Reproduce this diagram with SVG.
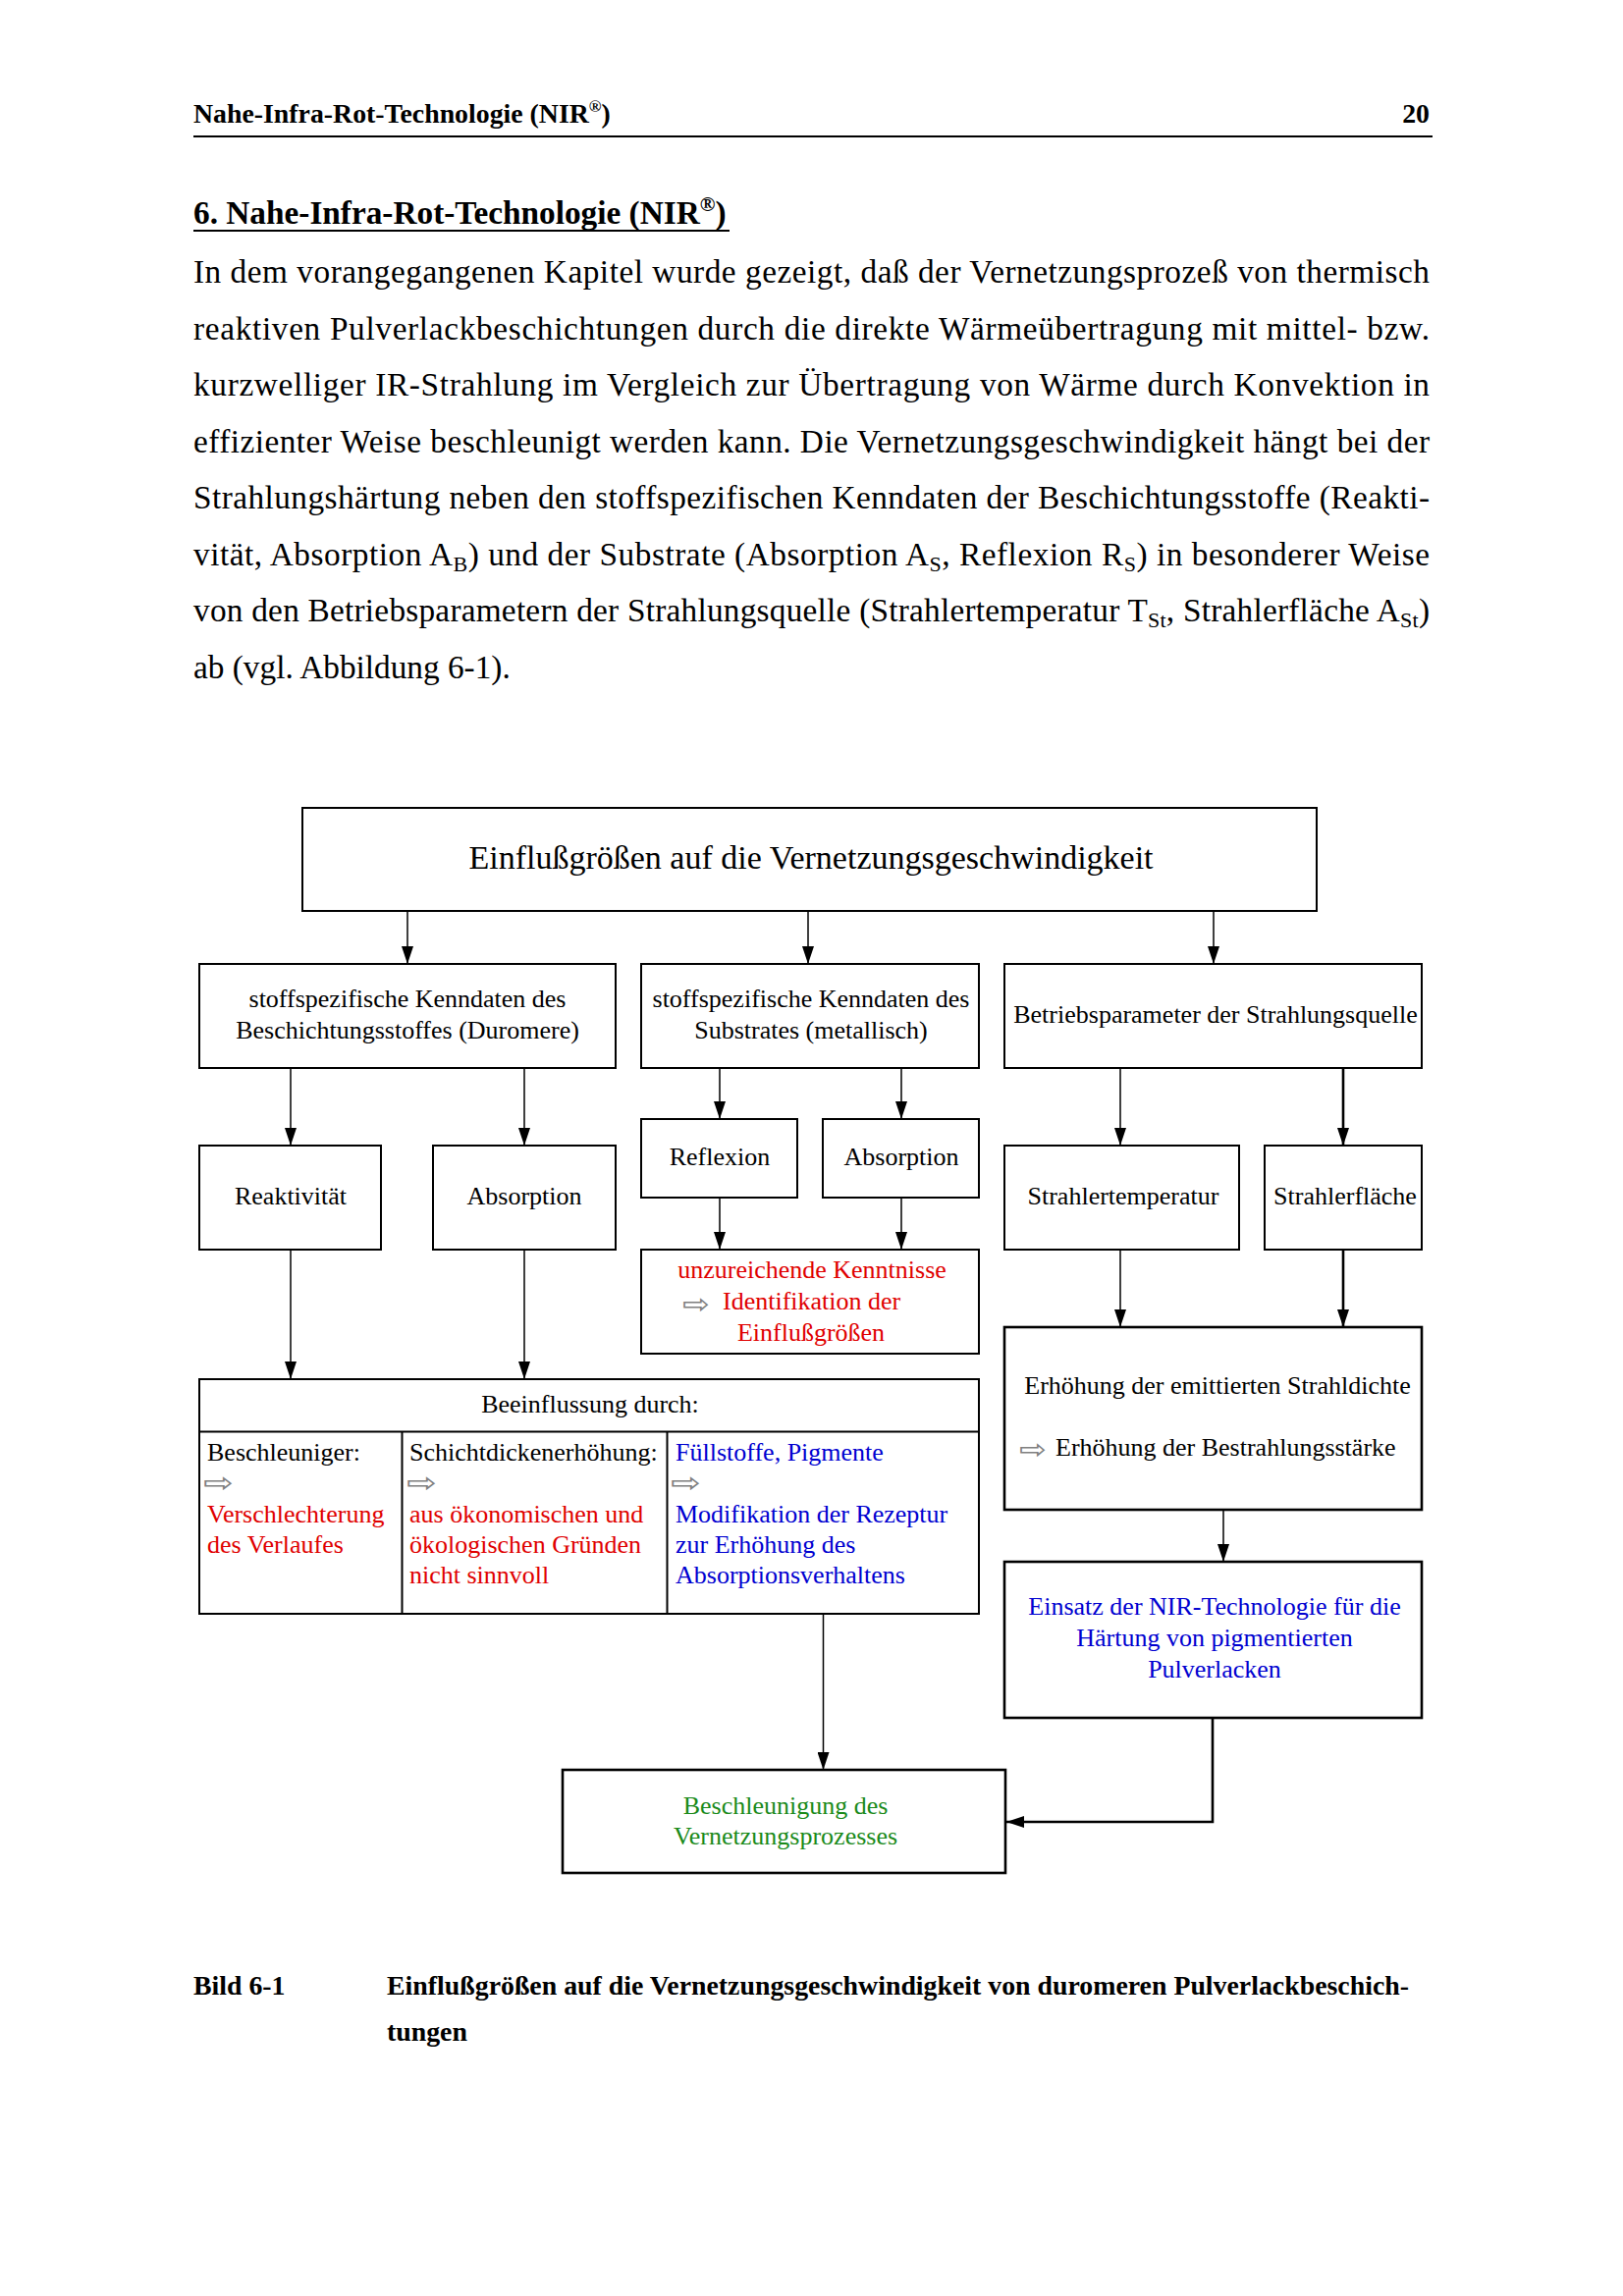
<svg xmlns="http://www.w3.org/2000/svg" width="1653" height="2339" viewBox="0 0 1653 2339">
<defs>
<style>
.serif{font-family:"Liberation Serif","Times New Roman",serif;fill:#000}
.hdr{font-size:27.8px;font-weight:bold}
.ttl{font-size:33.3px;font-weight:bold}
.body{font-size:33.3px}
.cap{font-size:27.8px;font-weight:bold}
.dg{font-size:26px}
.big{font-size:34px}
.mid{text-anchor:middle}
.red{fill:#e00000}
.blue{fill:#0000d0}
.green{fill:#1a8a1a}
.box{fill:#fff;stroke:#000;stroke-width:2}
.boxb{fill:#fff;stroke:#000;stroke-width:2.6}
.conn{stroke:#000;stroke-width:1.5;fill:none;marker-end:url(#ah)}
.connb{stroke:#000;stroke-width:2.6;fill:none;marker-end:url(#ah)}
.arr{font-family:"DejaVu Sans",sans-serif;font-size:28px;fill:#808080}
</style>
<marker id="ah" viewBox="0 0 18 12" refX="18" refY="6" markerWidth="18" markerHeight="12" markerUnits="userSpaceOnUse" orient="auto">
<path d="M0,0 L18,6 L0,12 Z" fill="#000"/>
</marker>
</defs>
<rect width="1653" height="2339" fill="#fff"/>

<g id="page-header">
<text class="serif hdr" x="197" y="125">Nahe-Infra-Rot-Technologie (NIR<tspan font-size="17px" dy="-11">®</tspan><tspan dy="11">)</tspan></text>
<text class="serif hdr" x="1456" y="125" text-anchor="end">20</text>
<line x1="197" y1="139" x2="1459" y2="139" stroke="#000" stroke-width="2"/>
</g>

<g id="section-title">
<text class="serif ttl" x="197" y="228">6. Nahe-Infra-Rot-Technologie (NIR<tspan font-size="21px" dy="-13">®</tspan><tspan dy="13">)</tspan></text>
<line x1="197" y1="235" x2="743" y2="235" stroke="#000" stroke-width="2.2"/>
</g>

<g id="body-text" class="serif body">
<text x="197" y="288" textLength="1259" lengthAdjust="spacing">In dem vorangegangenen Kapitel wurde gezeigt, daß der Vernetzungsprozeß von thermisch</text>
<text x="197" y="346" textLength="1259" lengthAdjust="spacing">reaktiven Pulverlackbeschichtungen durch die direkte Wärmeübertragung mit mittel- bzw.</text>
<text x="197" y="403" textLength="1259" lengthAdjust="spacing">kurzwelliger IR-Strahlung im Vergleich zur Übertragung von Wärme durch Konvektion in</text>
<text x="197" y="461" textLength="1259" lengthAdjust="spacing">effizienter Weise beschleunigt werden kann. Die Vernetzungsgeschwindigkeit hängt bei der</text>
<text x="197" y="518" textLength="1259" lengthAdjust="spacing">Strahlungshärtung neben den stoffspezifischen Kenndaten der Beschichtungsstoffe (Reakti-</text>
<text x="197" y="576" textLength="1259" lengthAdjust="spacing">vität, Absorption A<tspan font-size="22px" dy="6">B</tspan><tspan dy="-6">) und der Substrate (Absorption A</tspan><tspan font-size="22px" dy="6">S</tspan><tspan dy="-6">, Reflexion R</tspan><tspan font-size="22px" dy="6">S</tspan><tspan dy="-6">) in besonderer Weise</tspan></text>
<text x="197" y="633" textLength="1259" lengthAdjust="spacing">von den Betriebsparametern der Strahlungsquelle (Strahlertemperatur T<tspan font-size="22px" dy="6">St</tspan><tspan dy="-6">, Strahlerfläche A</tspan><tspan font-size="22px" dy="6">St</tspan><tspan dy="-6">)</tspan></text>
<text x="197" y="691">ab (vgl. Abbildung 6-1).</text>
</g>

<g id="connectors">
<line class="conn" x1="415" y1="928" x2="415" y2="982"/>
<line class="conn" x1="823" y1="928" x2="823" y2="982"/>
<line class="conn" x1="1236" y1="928" x2="1236" y2="982"/>
<line class="conn" x1="296" y1="1088" x2="296" y2="1167"/>
<line class="conn" x1="534" y1="1088" x2="534" y2="1167"/>
<line class="conn" x1="733" y1="1088" x2="733" y2="1140"/>
<line class="conn" x1="918" y1="1088" x2="918" y2="1140"/>
<line class="conn" x1="1141" y1="1088" x2="1141" y2="1167"/>
<line class="connb" x1="1368" y1="1088" x2="1368" y2="1167"/>
<line class="conn" x1="733" y1="1220" x2="733" y2="1273"/>
<line class="conn" x1="918" y1="1220" x2="918" y2="1273"/>
<line class="conn" x1="296" y1="1273" x2="296" y2="1405"/>
<line class="conn" x1="534" y1="1273" x2="534" y2="1405"/>
<line class="conn" x1="1141" y1="1273" x2="1141" y2="1352"/>
<line class="connb" x1="1368" y1="1273" x2="1368" y2="1352"/>
<line class="conn" x1="1246" y1="1538" x2="1246" y2="1591"/>
<line class="conn" x1="838.5" y1="1644" x2="838.5" y2="1803"/>
<polyline class="connb" points="1235,1750 1235,1856 1025,1856"/>
</g>

<g id="node-top">
<rect class="box" x="308" y="823" width="1033" height="105"/>
<text class="serif big mid" x="826" y="885">Einflußgrößen auf die Vernetzungsgeschwindigkeit</text>
</g>

<g id="node-beschichtung">
<rect class="box" x="203" y="982" width="424" height="106"/>
<text class="serif dg mid" x="415" y="1026">stoffspezifische Kenndaten des</text>
<text class="serif dg mid" x="415" y="1058">Beschichtungsstoffes (Duromere)</text>
</g>

<g id="node-substrat">
<rect class="box" x="653" y="982" width="344" height="106"/>
<text class="serif dg mid" x="826" y="1026">stoffspezifische Kenndaten des</text>
<text class="serif dg mid" x="826" y="1058">Substrates (metallisch)</text>
</g>

<g id="node-betrieb">
<rect class="box" x="1023" y="982" width="425" height="106"/>
<text class="serif dg mid" x="1238" y="1042">Betriebsparameter der Strahlungsquelle</text>
</g>

<g id="node-reaktivitaet">
<rect class="box" x="203" y="1167" width="185" height="106"/>
<text class="serif dg mid" x="296" y="1227">Reaktivität</text>
</g>

<g id="node-absorption-b">
<rect class="box" x="441" y="1167" width="186" height="106"/>
<text class="serif dg mid" x="534" y="1227">Absorption</text>
</g>

<g id="node-reflexion">
<rect class="box" x="653" y="1140" width="159" height="80"/>
<text class="serif dg mid" x="733" y="1187">Reflexion</text>
</g>

<g id="node-absorption-s">
<rect class="box" x="838" y="1140" width="159" height="80"/>
<text class="serif dg mid" x="918" y="1187">Absorption</text>
</g>

<g id="node-kenntnisse">
<rect class="box" x="653" y="1273" width="344" height="106"/>
<text class="serif dg mid red" x="827" y="1302">unzureichende Kenntnisse</text>
<text class="arr" x="695" y="1338" textLength="28" lengthAdjust="spacingAndGlyphs">⇨</text>
<text class="serif dg red" x="736" y="1334">Identifikation der</text>
<text class="serif dg mid red" x="826" y="1366">Einflußgrößen</text>
</g>

<g id="node-strahlertemperatur">
<rect class="box" x="1023" y="1167" width="239" height="106"/>
<text class="serif dg mid" x="1144" y="1227">Strahlertemperatur</text>
</g>

<g id="node-strahlerflaeche">
<rect class="box" x="1288" y="1167" width="160" height="106"/>
<text class="serif dg mid" x="1370" y="1227">Strahlerfläche</text>
</g>

<g id="node-strahldichte">
<rect class="boxb" x="1023" y="1352" width="425" height="186"/>
<text class="serif dg mid" x="1240" y="1420">Erhöhung der emittierten Strahldichte</text>
<text class="arr" x="1038" y="1486" textLength="28" lengthAdjust="spacingAndGlyphs">⇨</text>
<text class="serif dg" x="1075" y="1483">Erhöhung der Bestrahlungsstärke</text>
</g>

<g id="node-beeinflussung">
<rect class="box" x="203" y="1405" width="794" height="239"/>
<line x1="203" y1="1458.5" x2="997" y2="1458.5" stroke="#000" stroke-width="2"/>
<line x1="409.5" y1="1458.5" x2="409.5" y2="1644" stroke="#000" stroke-width="2"/>
<line x1="679.5" y1="1458.5" x2="679.5" y2="1644" stroke="#000" stroke-width="2"/>
<text class="serif dg mid" x="601" y="1439">Beeinflussung durch:</text>
<text class="serif dg" x="211" y="1488">Beschleuniger:</text>
<text class="arr" x="207" y="1520" textLength="31" lengthAdjust="spacingAndGlyphs">⇨</text>
<text class="serif dg red" x="211" y="1551">Verschlechterung</text>
<text class="serif dg red" x="211" y="1582">des Verlaufes</text>
<text class="serif dg" x="417" y="1488">Schichtdickenerhöhung:</text>
<text class="arr" x="414" y="1520" textLength="31" lengthAdjust="spacingAndGlyphs">⇨</text>
<text class="serif dg red" x="417" y="1551">aus ökonomischen und</text>
<text class="serif dg red" x="417" y="1582">ökologischen Gründen</text>
<text class="serif dg red" x="417" y="1613">nicht sinnvoll</text>
<text class="serif dg blue" x="688" y="1488">Füllstoffe, Pigmente</text>
<text class="arr" x="683" y="1520" textLength="31" lengthAdjust="spacingAndGlyphs">⇨</text>
<text class="serif dg blue" x="688" y="1551">Modifikation der Rezeptur</text>
<text class="serif dg blue" x="688" y="1582">zur Erhöhung des</text>
<text class="serif dg blue" x="688" y="1613">Absorptionsverhaltens</text>
</g>

<g id="node-einsatz">
<rect class="boxb" x="1023" y="1591" width="425" height="159"/>
<text class="serif dg mid blue" x="1237" y="1645">Einsatz der NIR-Technologie für die</text>
<text class="serif dg mid blue" x="1237" y="1677">Härtung von pigmentierten</text>
<text class="serif dg mid blue" x="1237" y="1709">Pulverlacken</text>
</g>

<g id="node-beschleunigung">
<rect class="boxb" x="573" y="1803" width="451" height="105"/>
<text class="serif dg mid green" x="800" y="1848">Beschleunigung des</text>
<text class="serif dg mid green" x="800" y="1879">Vernetzungsprozesses</text>
</g>

<g id="caption" class="serif cap">
<text x="197" y="2032">Bild 6-1</text>
<text x="394" y="2032" textLength="1041" lengthAdjust="spacing">Einflußgrößen auf die Vernetzungsgeschwindigkeit von duromeren Pulverlackbeschich-</text>
<text x="394" y="2079">tungen</text>
</g>
</svg>
